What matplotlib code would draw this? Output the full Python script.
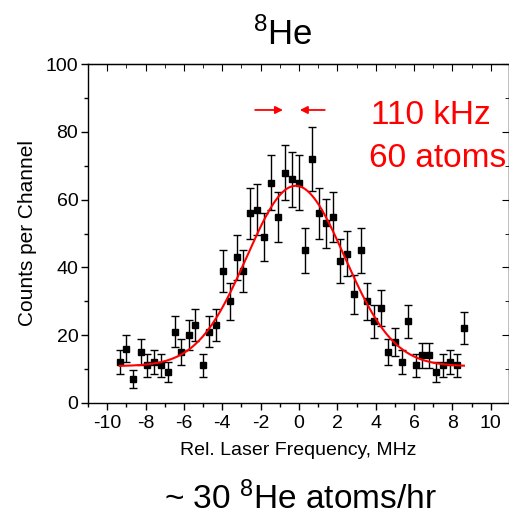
import matplotlib
matplotlib.use("Agg")
import matplotlib.pyplot as plt
import numpy as np
from matplotlib.ticker import MultipleLocator

plt.rcParams['font.family'] = ['Liberation Sans', 'DejaVu Sans']
plt.rcParams['axes.unicode_minus'] = False
plt.rcParams['mathtext.fontset'] = 'custom'
plt.rcParams['mathtext.rm'] = 'Liberation Sans'
plt.rcParams['mathtext.it'] = 'Liberation Sans:italic'
plt.rcParams['mathtext.bf'] = 'Liberation Sans:bold'

# data
freq = [-9.35, -9.0, -8.65, -8.26, -7.9, -7.55, -7.2, -6.84, -6.47, -6.13,
        -5.76, -5.4, -5.03, -4.69, -4.32, -3.96, -3.59, -3.24, -2.9, -2.53,
        -2.17, -1.82, -1.44, -1.09, -0.74, -0.38, -0.02, 0.33, 0.7, 1.04,
        1.41, 1.77, 2.14, 2.48, 2.85, 3.21, 3.56, 3.93, 4.29, 4.64,
        5.0, 5.35, 5.71, 6.08, 6.43, 6.79, 7.16, 7.52, 7.88, 8.23, 8.6]
counts = [12, 16, 7, 15, 11, 12, 11, 9, 21, 15,
          20, 23, 11, 21, 23, 39, 30, 43, 39, 56,
          57, 49, 65, 55, 68, 66, 65, 45, 72, 56,
          53, 55, 42, 44, 32, 45, 30, 24, 28, 15,
          18, 12, 24, 11, 14, 14, 9, 11, 12, 11, 22]
errors = [3.5, 4.0, 2.6, 3.9, 3.3, 3.5, 3.3, 3.0, 4.6, 3.9,
          4.5, 4.8, 3.3, 4.6, 4.8, 6.2, 5.5, 6.6, 6.2, 7.5,
          7.5, 7.0, 8.1, 7.4, 8.2, 8.1, 8.1, 6.7, 9.5, 7.5,
          7.3, 7.4, 6.5, 6.6, 5.7, 6.7, 5.5, 4.9, 5.3, 3.9,
          4.2, 3.5, 4.9, 3.3, 3.7, 3.7, 3.0, 3.3, 3.5, 3.3, 4.7]

# Gaussian fit parameters
fit_base = 10.8
fit_amp = 53.3
fit_center = -0.17
fit_sigma = 2.55

fig = plt.figure(figsize=(5.10, 5.15), dpi=100)
ax = fig.add_axes([88/510, 1-402.7/515, (509-88)/510, (402.7-64.3)/515])

ax.errorbar(freq, counts, yerr=errors, fmt='s', color='black', ms=5,
            ecolor='black', elinewidth=1, capsize=3, capthick=1, zorder=3)

xf = np.linspace(min(freq), max(freq), 400)
yf = fit_base + fit_amp*np.exp(-(xf-fit_center)**2/(2*fit_sigma**2))
ax.plot(xf, yf, color='red', lw=1.5, zorder=4)

ax.set_xlim(-11, 10.95)
ax.set_ylim(0, 100)
ax.xaxis.set_major_locator(MultipleLocator(2))
ax.xaxis.set_minor_locator(MultipleLocator(1))
ax.yaxis.set_major_locator(MultipleLocator(20))
ax.yaxis.set_minor_locator(MultipleLocator(10))
ax.tick_params(which='major', direction='out', length=5, width=1, labelsize=14, pad=2)
ax.tick_params(which='minor', direction='out', length=3, width=1)
ax.tick_params(axis='x', pad=4)
for s in ax.spines.values():
    s.set_linewidth(1)

sx = ax.secondary_xaxis('top')
sx.xaxis.set_major_locator(MultipleLocator(2))
sx.xaxis.set_minor_locator(MultipleLocator(1))
sx.tick_params(which='major', direction='in', length=5, labeltop=False)
sx.tick_params(which='minor', direction='in', length=3)
sy = ax.secondary_yaxis('right')
sy.yaxis.set_major_locator(MultipleLocator(20))
sy.yaxis.set_minor_locator(MultipleLocator(10))
sy.tick_params(which='major', direction='in', length=5, labelright=False)
sy.tick_params(which='minor', direction='in', length=3)

ax.set_xlabel('Rel. Laser Frequency, MHz', fontsize=14, labelpad=7)
ax.set_ylabel('Counts per Channel', fontsize=15, labelpad=6)

# annotations
ax.annotate('', xy=(-0.69, 86.5), xytext=(-2.43, 86.5),
            arrowprops=dict(arrowstyle='-|>', color='red', lw=1.3, mutation_scale=11))
ax.annotate('', xy=(-0.10, 86.5), xytext=(1.49, 86.5),
            arrowprops=dict(arrowstyle='-|>', color='red', lw=1.3, mutation_scale=11))
fig.text(371/510, 1-124.3/515, '110 kHz', color='red', fontsize=24, ha='left', va='baseline')
fig.text(369/510, 1-166.7/515, '60 atoms', color='red', fontsize=24, ha='left', va='baseline')

fig.text(283/510, 1-35/515, r'$^{8}$He', fontsize=25, ha='center', va='center')
fig.text(300/510, 1-499/515, r'~ 30 $^{8}$He atoms/hr', fontsize=24, ha='center', va='center')

fig.savefig('out.png', dpi=100)
